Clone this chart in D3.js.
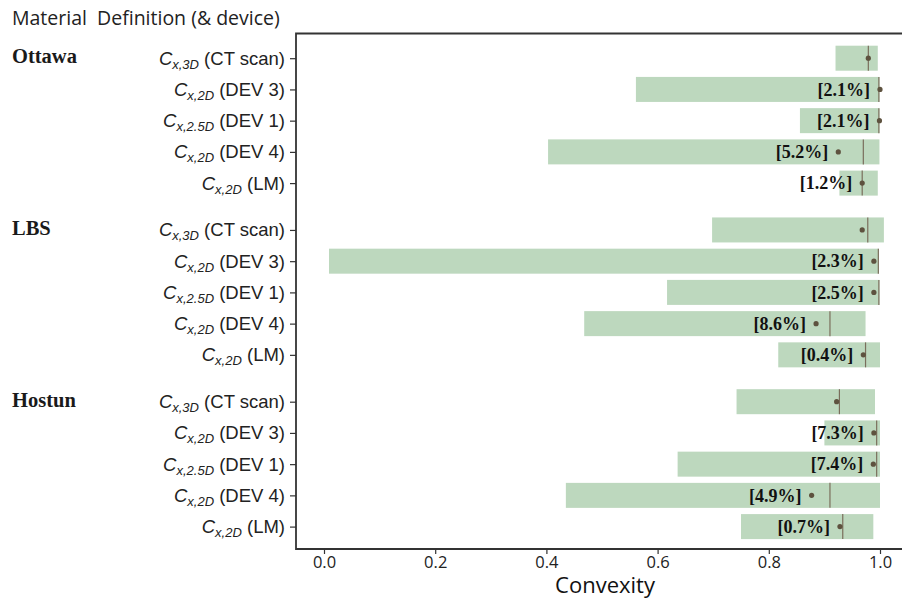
<!DOCTYPE html>
<html lang="en">
<head>
  <title>Convexity</title>
  <script src="https://cdn.jsdelivr.net/npm/d3@7"></script>
  <style>
    body { margin: 0; background: #fff; }
  </style>
</head>
<body>
  <script>
    // data
    let groups = ["Ottawa", "LBS", "Hostun"];
    let dims = ["3D", "2D", "2.5D", "2D", "2D"];
    let devices = ["CT scan", "DEV 3", "DEV 1", "DEV 4", "LM"];
    // one entry per row, groups in order
    let minVals = [0.920, 0.561, 0.856, 0.403, 0.927,
                   0.698, 0.009, 0.617, 0.468, 0.817,
                   0.742, 0.900, 0.636, 0.435, 0.750];
    let maxVals = [0.996, 0.999, 0.999, 0.999, 0.996,
                   1.007, 0.998, 0.999, 0.974, 1.000,
                   0.991, 1.000, 1.000, 1.000, 0.988];
    let medianVals = [0.979, 0.998, 0.998, 0.970, 0.968,
                      0.978, 0.997, 0.998, 0.910, 0.974,
                      0.927, 0.994, 0.994, 0.910, 0.933];
    let meanVals = [0.979, 1.000, 0.999, 0.925, 0.968,
                    0.968, 0.989, 0.989, 0.885, 0.970,
                    0.922, 0.989, 0.988, 0.877, 0.928];
    let errLabels = ["", "2.1%", "2.1%", "5.2%", "1.2%",
                     "", "2.3%", "2.5%", "8.6%", "0.4%",
                     "", "7.3%", "7.4%", "4.9%", "0.7%"];
    let xTicks = [0, 0.2, 0.4, 0.6, 0.8, 1.0];

    let svgWidth = 902, svgHeight = 598;
    let frame = { left: 296, top: 33.5, bottom: 549, right: 902 };
    let barH = 25;

    let rows = [];
    groups.forEach((g, gi) => {
      devices.forEach((dev, ri) => {
        let i = gi * devices.length + ri;
        rows.push({
          group: g, first: ri === 0, pos: gi * 5.5 + ri,
          dim: dims[ri], device: dev,
          min: minVals[i], max: maxVals[i],
          median: medianVals[i], mean: meanVals[i], label: errLabels[i]
        });
      });
    });

    let svg = d3.select("body").append("svg")
      .attr("width", svgWidth)
      .attr("height", svgHeight);

    let xScale = d3.scaleLinear().domain([0, 1]).range([324, 880]);
    let yScale = d3.scaleLinear().domain([0, 15]).range([58.2, 526.6]);

    // bars (range)
    svg.selectAll(".bar").data(rows).join("rect")
      .attr("class", "bar")
      .attr("x", d => xScale(d.min))
      .attr("y", d => yScale(d.pos) - barH / 2)
      .attr("width", d => xScale(d.max) - xScale(d.min))
      .attr("height", barH)
      .attr("fill", "#bdd8be");

    // median lines
    svg.selectAll(".med").data(rows).join("line")
      .attr("x1", d => xScale(d.median))
      .attr("x2", d => xScale(d.median))
      .attr("y1", d => yScale(d.pos) - barH / 2)
      .attr("y2", d => yScale(d.pos) + barH / 2)
      .attr("stroke", "#7a6e5c")
      .attr("stroke-width", 1.2);

    // mean points
    svg.selectAll(".pt").data(rows).join("circle")
      .attr("cx", d => xScale(d.mean))
      .attr("cy", d => yScale(d.pos))
      .attr("r", 2.6)
      .attr("fill", "#5e523f");

    // error labels
    svg.selectAll(".err").data(rows.filter(d => d.label)).join("text")
      .attr("x", d => xScale(d.mean) - 10)
      .attr("y", d => yScale(d.pos))
      .attr("dy", "0.35em")
      .attr("text-anchor", "end")
      .attr("font-family", "'Liberation Serif', serif")
      .attr("font-weight", "bold")
      .attr("font-size", 18)
      .attr("fill", "#111")
      .text(d => `[${d.label}]`);

    // frame
    svg.append("path")
      .attr("d", `M${frame.right},${frame.top}H${frame.left}V${frame.bottom}H${frame.right}`)
      .attr("fill", "none")
      .attr("stroke", "#333")
      .attr("stroke-width", 1.8);

    // y ticks
    let yAxis = d3.axisLeft(yScale)
      .tickValues(rows.map(d => d.pos))
      .tickSize(6)
      .tickFormat("");
    let yAxisG = svg.append("g")
      .attr("transform", `translate(${frame.left}, 0)`)
      .call(yAxis);
    yAxisG.select(".domain").remove();
    yAxisG.selectAll(".tick line").attr("stroke", "#333").attr("stroke-width", 1.2);

    // y labels
    let yLab = svg.selectAll(".ylab").data(rows).join("text")
      .attr("x", 285)
      .attr("y", d => yScale(d.pos))
      .attr("dy", "0.35em")
      .attr("text-anchor", "end")
      .attr("font-family", "'Liberation Sans', Arial, sans-serif")
      .attr("font-size", 18.5)
      .attr("fill", "#222");
    yLab.append("tspan").attr("font-style", "italic").text("C");
    yLab.append("tspan").attr("font-style", "italic").attr("font-size", 13)
      .attr("dy", 4).text(d => "x," + d.dim);
    yLab.append("tspan").attr("dy", -4).text(d => " (" + d.device + ")");

    // group labels
    svg.selectAll(".grp").data(rows.filter(d => d.first)).join("text")
      .attr("x", 12)
      .attr("y", d => yScale(d.pos) - 2)
      .attr("dy", "0.35em")
      .attr("font-family", "'Liberation Serif', serif")
      .attr("font-weight", "bold")
      .attr("font-size", 20.5)
      .attr("fill", "#1a1a1a")
      .text(d => d.group);

    // x axis
    let xAxis = d3.axisBottom(xScale)
      .tickValues(xTicks)
      .tickSize(5)
      .tickPadding(2)
      .tickFormat(d3.format(".1f"));
    let xAxisG = svg.append("g")
      .attr("transform", `translate(0, ${frame.bottom})`)
      .call(xAxis);
    xAxisG.select(".domain").remove();
    xAxisG.selectAll(".tick line").attr("stroke", "#333").attr("stroke-width", 1.2);
    xAxisG.selectAll(".tick text")
      .attr("font-family", "'Open Sans', sans-serif")
      .attr("font-size", 16.5)
      .attr("fill", "#222");

    // x label
    svg.append("text")
      .attr("x", 605)
      .attr("y", 593)
      .attr("text-anchor", "middle")
      .attr("font-family", "'Open Sans', sans-serif")
      .attr("font-size", 22)
      .attr("fill", "#111")
      .text("Convexity");

    // header
    svg.append("text")
      .attr("x", 12)
      .attr("y", 25)
      .attr("font-family", "'Open Sans', sans-serif")
      .attr("font-size", 19.5)
      .attr("fill", "#222")
      .attr("xml:space", "preserve")
      .text("Material  Definition (& device)");
  </script>
</body>
</html>
